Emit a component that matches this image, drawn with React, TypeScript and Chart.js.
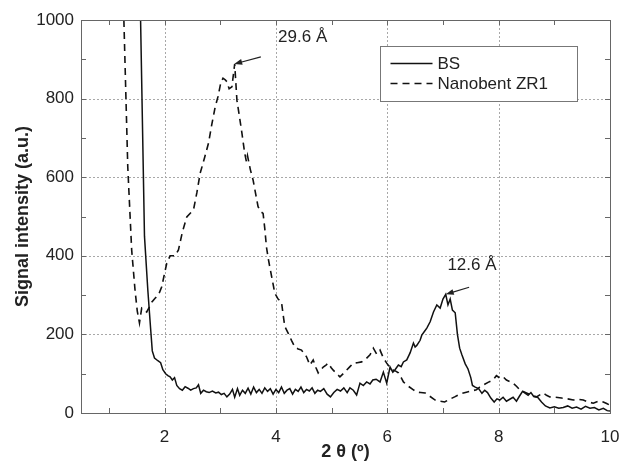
import React, { useEffect, useRef } from "react";
import { Chart, registerables } from "chart.js";

Chart.register(...registerables);

// ---- Data ----
const bsX = [1.57, 1.64, 1.70, 1.75, 1.78, 1.82, 1.88, 1.93, 1.97, 2.02, 2.06, 2.10, 2.14, 2.18, 2.22, 2.27, 2.32, 2.37, 2.42, 2.47, 2.52, 2.57, 2.61, 2.65, 2.70, 2.75, 2.80, 2.86, 2.92, 2.97, 3.02, 3.07, 3.12, 3.17, 3.22, 3.26, 3.31, 3.35, 3.40, 3.45, 3.50, 3.55, 3.60, 3.65, 3.70, 3.75, 3.80, 3.85, 3.90, 3.95, 4.00, 4.05, 4.10, 4.15, 4.20, 4.25, 4.30, 4.35, 4.40, 4.45, 4.50, 4.55, 4.60, 4.65, 4.70, 4.75, 4.80, 4.86, 4.92, 4.98, 5.04, 5.10, 5.16, 5.22, 5.28, 5.33, 5.39, 5.45, 5.51, 5.57, 5.63, 5.69, 5.74, 5.80, 5.87, 5.93, 5.99, 6.05, 6.10, 6.14, 6.20, 6.25, 6.29, 6.35, 6.41, 6.47, 6.50, 6.53, 6.59, 6.62, 6.67, 6.71, 6.77, 6.83, 6.89, 6.95, 7.00, 7.05, 7.09, 7.13, 7.17, 7.22, 7.26, 7.30, 7.34, 7.40, 7.45, 7.50, 7.53, 7.58, 7.64, 7.70, 7.75, 7.80, 7.86, 7.92, 7.97, 8.02, 8.08, 8.14, 8.20, 8.26, 8.32, 8.37, 8.43, 8.48, 8.53, 8.58, 8.63, 8.70, 8.77, 8.84, 8.92, 9.00, 9.08, 9.16, 9.24, 9.32, 9.40, 9.48, 9.56, 9.64, 9.72, 9.80, 9.88, 9.95, 10.0];
const bsY = [1000, 450, 313, 215, 158, 140, 133, 128, 110, 100, 95, 92, 84, 90, 70, 62, 58, 67, 63, 58, 62, 64, 72, 50, 58, 54, 52, 56, 51, 53, 47, 50, 41, 48, 60, 40, 62, 45, 58, 50, 63, 48, 66, 52, 60, 50, 64, 55, 62, 48, 60, 52, 66, 50, 58, 62, 48, 60, 55, 66, 52, 60, 56, 64, 50, 58, 55, 62, 48, 41, 52, 60, 56, 64, 52, 64, 58, 46, 76, 70, 79, 74, 84, 86, 79, 104, 76, 117, 104, 110, 122, 118, 130, 135, 153, 178, 168, 172, 185, 198, 208, 216, 232, 257, 275, 267, 290, 302, 275, 290, 262, 255, 200, 165, 148, 125, 112, 90, 70, 66, 62, 50, 58, 52, 38, 28, 36, 33, 40, 30, 35, 40, 30, 42, 55, 50, 45, 52, 42, 40, 28, 18, 13, 16, 12, 14, 18, 12, 15, 10, 17, 12, 14, 8, 12, 6, 5];

const nbX = [1.27, 1.34, 1.41, 1.47, 1.51, 1.55, 1.59, 1.64, 1.68, 1.73, 1.77, 1.83, 1.89, 1.95, 2.00, 2.04, 2.10, 2.19, 2.25, 2.32, 2.40, 2.52, 2.58, 2.64, 2.72, 2.79, 2.85, 2.91, 2.96, 3.01, 3.05, 3.09, 3.12, 3.16, 3.21, 3.26, 3.30, 3.35, 3.39, 3.44, 3.47, 3.49, 3.54, 3.59, 3.64, 3.68, 3.73, 3.77, 3.80, 3.83, 3.86, 3.89, 3.94, 3.98, 4.04, 4.10, 4.13, 4.16, 4.22, 4.28, 4.34, 4.40, 4.46, 4.51, 4.55, 4.61, 4.67, 4.72, 4.76, 4.81, 4.85, 4.90, 4.94, 4.99, 5.03, 5.09, 5.15, 5.21, 5.27, 5.33, 5.39, 5.46, 5.54, 5.62, 5.69, 5.75, 5.81, 5.87, 5.93, 5.99, 6.05, 6.11, 6.16, 6.20, 6.25, 6.29, 6.38, 6.47, 6.53, 6.60, 6.68, 6.77, 6.86, 6.95, 7.03, 7.12, 7.21, 7.30, 7.42, 7.51, 7.60, 7.66, 7.72, 7.81, 7.90, 7.96, 8.02, 8.08, 8.14, 8.20, 8.26, 8.32, 8.38, 8.44, 8.50, 8.59, 8.68, 8.74, 8.80, 8.86, 8.92, 9.02, 9.13, 9.24, 9.34, 9.43, 9.52, 9.61, 9.70, 9.79, 9.88, 9.94, 10.0];
const nbY = [1000, 626, 415, 313, 260, 229, 267, 262, 257, 270, 282, 292, 300, 321, 355, 381, 400, 400, 415, 460, 499, 517, 560, 610, 650, 687, 735, 779, 805, 840, 852, 848, 843, 825, 830, 888, 796, 750, 712, 661, 640, 655, 620, 593, 555, 525, 512, 508, 470, 423, 395, 372, 335, 305, 290, 283, 250, 220, 203, 185, 168, 163, 160, 150, 143, 122, 135, 115, 102, 110, 117, 122, 127, 116, 109, 100, 92, 100, 109, 118, 127, 128, 130, 138, 148, 165, 150, 160, 140, 127, 115, 109, 106, 102, 90, 79, 68, 59, 53, 52, 51, 42, 33, 30, 28, 35, 41, 48, 53, 56, 59, 66, 71, 78, 84, 95, 89, 92, 84, 80, 76, 68, 59, 55, 51, 45, 41, 46, 51, 45, 41, 40, 38, 36, 33, 35, 33, 28, 25, 30, 28, 24, 20];

const seriesNames = ["BS", "Nanobent ZR1"];
const xMajorTicks = [2, 4, 6, 8, 10];
const xMinorTicks = [1, 3, 5, 7, 9];
const yMajorTicks = [0, 200, 400, 600, 800, 1000];
const yMinorTicks = [100, 300, 500, 700, 900];

const annLabels = ["29.6 Å", "12.6 Å"];
const annTipX = [3.25, 7.05];
const annTipY = [888, 302];
const annTailX = [3.73, 7.47];
const annTailY = [906, 320];
const annTextX = [4.04, 7.08];
const annTextY = [957, 377];

const FONT = "'Liberation Sans', Arial, Helvetica, sans-serif";

export default function App() {
  const canvasRef = useRef<HTMLCanvasElement | null>(null);

  useEffect(() => {
    document.body.style.margin = "0";
    const canvas = canvasRef.current;
    if (!canvas) return;

    const overlay = {
      id: "overlay",
      beforeDatasetsDraw(chart: any) {
        const { ctx, chartArea: a, scales } = chart;
        const xs = scales.x, ys = scales.y;
        ctx.save();
        ctx.strokeStyle = "#a8a8a8";
        ctx.lineWidth = 1;
        ctx.setLineDash([2, 2]);
        xMajorTicks.forEach((v) => {
          if (v <= xs.min || v >= xs.max) return;
          const px = Math.round(xs.getPixelForValue(v)) + 0.5;
          ctx.beginPath();
          ctx.moveTo(px, a.top);
          ctx.lineTo(px, a.bottom);
          ctx.stroke();
        });
        yMajorTicks.forEach((v) => {
          if (v <= ys.min || v >= ys.max) return;
          const py = Math.round(ys.getPixelForValue(v)) + 0.5;
          ctx.beginPath();
          ctx.moveTo(a.left, py);
          ctx.lineTo(a.right, py);
          ctx.stroke();
        });
        ctx.restore();
      },
      afterDatasetsDraw(chart: any) {
        const { ctx, chartArea: a, scales } = chart;
        const xs = scales.x, ys = scales.y;
        ctx.save();
        // frame
        ctx.setLineDash([]);
        ctx.strokeStyle = "#666";
        ctx.lineWidth = 1;
        ctx.strokeRect(Math.round(a.left) + 0.5, Math.round(a.top) + 0.5, Math.round(a.right - a.left), Math.round(a.bottom - a.top));
        // inner ticks
        const tl = 5;
        [...xMajorTicks, ...xMinorTicks].forEach((v) => {
          if (v <= xs.min || v >= xs.max) return;
          const px = Math.round(xs.getPixelForValue(v)) + 0.5;
          ctx.beginPath();
          ctx.moveTo(px, a.bottom);
          ctx.lineTo(px, a.bottom - tl);
          ctx.moveTo(px, a.top);
          ctx.lineTo(px, a.top + tl);
          ctx.stroke();
        });
        [...yMajorTicks, ...yMinorTicks].forEach((v) => {
          if (v <= ys.min || v >= ys.max) return;
          const py = Math.round(ys.getPixelForValue(v)) + 0.5;
          ctx.beginPath();
          ctx.moveTo(a.left, py);
          ctx.lineTo(a.left + tl, py);
          ctx.moveTo(a.right, py);
          ctx.lineTo(a.right - tl, py);
          ctx.stroke();
        });

        // annotations
        ctx.fillStyle = "#222";
        ctx.strokeStyle = "#222";
        ctx.font = `17px ${FONT}`;
        ctx.textBaseline = "middle";
        ctx.textAlign = "left";
        annLabels.forEach((lab, i) => {
          const tx = xs.getPixelForValue(annTextX[i]);
          const ty = ys.getPixelForValue(annTextY[i]);
          ctx.fillText(lab, tx, ty);
          const x1 = xs.getPixelForValue(annTailX[i]);
          const y1 = ys.getPixelForValue(annTailY[i]);
          const x2 = xs.getPixelForValue(annTipX[i]);
          const y2 = ys.getPixelForValue(annTipY[i]);
          const ang = Math.atan2(y2 - y1, x2 - x1);
          ctx.lineWidth = 1.2;
          ctx.beginPath();
          ctx.moveTo(x1, y1);
          ctx.lineTo(x2 - 5 * Math.cos(ang), y2 - 5 * Math.sin(ang));
          ctx.stroke();
          const hl = 8, hw = 3;
          ctx.beginPath();
          ctx.moveTo(x2, y2);
          ctx.lineTo(x2 - hl * Math.cos(ang) + hw * Math.sin(ang), y2 - hl * Math.sin(ang) - hw * Math.cos(ang));
          ctx.lineTo(x2 - hl * Math.cos(ang) - hw * Math.sin(ang), y2 - hl * Math.sin(ang) + hw * Math.cos(ang));
          ctx.closePath();
          ctx.fill();
        });

        // legend
        const bx = Math.round(a.right) - 229.5;
        const by = Math.round(a.top) + 26.5;
        const bw = 197, bh = 55;
        ctx.fillStyle = "#fff";
        ctx.fillRect(bx, by, bw, bh);
        ctx.strokeStyle = "#777";
        ctx.lineWidth = 1;
        ctx.setLineDash([]);
        ctx.strokeRect(bx, by, bw, bh);
        const rows = [by + 17, by + 37];
        ctx.strokeStyle = "#111";
        ctx.lineWidth = 1.6;
        ctx.beginPath();
        ctx.moveTo(bx + 10, rows[0]);
        ctx.lineTo(bx + 52, rows[0]);
        ctx.stroke();
        ctx.setLineDash([7, 5]);
        ctx.beginPath();
        ctx.moveTo(bx + 10, rows[1]);
        ctx.lineTo(bx + 52, rows[1]);
        ctx.stroke();
        ctx.setLineDash([]);
        ctx.fillStyle = "#222";
        ctx.font = `17px ${FONT}`;
        ctx.textAlign = "left";
        ctx.textBaseline = "middle";
        ctx.fillText(seriesNames[0], bx + 57, rows[0] + 1);
        ctx.fillText(seriesNames[1], bx + 57, rows[1] + 1);

        // axis titles
        ctx.font = `bold 18px ${FONT}`;
        ctx.fillStyle = "#222";
        ctx.textAlign = "center";
        ctx.textBaseline = "middle";
        ctx.fillText("2 θ (º)", (a.left + a.right) / 2, 452);
        ctx.save();
        ctx.translate(23, (a.top + a.bottom) / 2);
        ctx.rotate(-Math.PI / 2);
        ctx.fillText("Signal intensity (a.u.)", 0, 0);
        ctx.restore();
        ctx.restore();
      },
    };

    const chart = new Chart(canvas, {
      type: "line",
      data: {
        datasets: [
          {
            label: seriesNames[0],
            data: bsX.map((x, i) => ({ x, y: bsY[i] })),
            borderColor: "#111",
            borderWidth: 1.5,
            pointRadius: 0,
            tension: 0,
            fill: false,
          },
          {
            label: seriesNames[1],
            data: nbX.map((x, i) => ({ x, y: nbY[i] })),
            borderColor: "#111",
            borderWidth: 1.6,
            borderDash: [7, 5],
            pointRadius: 0,
            tension: 0,
            fill: false,
          },
        ],
      },
      options: {
        animation: false,
        responsive: true,
        maintainAspectRatio: false,
        layout: { padding: { left: 0, top: 20, right: 20, bottom: 0 }, autoPadding: false },
        plugins: { legend: { display: false }, tooltip: { enabled: false } },
        scales: {
          x: {
            type: "linear",
            min: 0.5,
            max: 10,
            grid: { display: false, drawTicks: false },
            border: { display: false },
            afterBuildTicks: (s: any) => {
              s.ticks = xMajorTicks.map((v) => ({ value: v }));
            },
            afterFit: (s: any) => {
              s.height = 50;
              s.paddingLeft = 0;
              s.paddingRight = 0;
            },
            ticks: {
              padding: 14,
              color: "#222",
              font: { size: 17, family: FONT },
              maxRotation: 0,
              autoSkip: false,
              callback: (v: any) => String(v),
            },
          },
          y: {
            type: "linear",
            min: 0,
            max: 1000,
            grid: { display: false, drawTicks: false },
            border: { display: false },
            afterBuildTicks: (s: any) => {
              s.ticks = yMajorTicks.map((v) => ({ value: v }));
            },
            afterFit: (s: any) => {
              s.width = 81;
              s.paddingTop = 0;
              s.paddingBottom = 0;
            },
            ticks: {
              padding: 7,
              color: "#222",
              font: { size: 17, family: FONT },
              autoSkip: false,
              callback: (v: any) => String(v),
            },
          },
        },
      },
      plugins: [overlay],
    });

    return () => chart.destroy();
  }, []);

  return (
    <div style={{ position: "absolute", left: 0, top: 0, width: 630, height: 463, background: "#fff" }}>
      <canvas ref={canvasRef} />
    </div>
  );
}
